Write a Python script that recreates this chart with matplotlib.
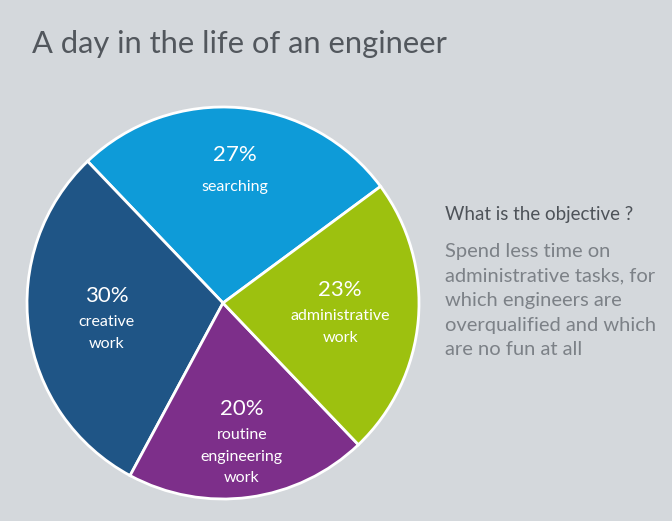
import numpy as np
import matplotlib
matplotlib.use("Agg")
import matplotlib.pyplot as plt
from matplotlib.transforms import offset_copy

plt.rcParams['font.family'] = ['Lato', 'DejaVu Sans']

# Shares of an engineer's working day
categories = ["searching", "creative\nwork", "routine\nengineering\nwork", "administrative\nwork"]
shares = [27, 30, 20, 23]
colors = ["#0E9BD8", "#1F5586", "#7D2F8A", "#9DC10F"]
label_radius = [0.68, 0.60, 0.72, 0.60]

W, H = 672, 521
BG = "#D4D8DC"
fig = plt.figure(figsize=(W / 100, H / 100), dpi=100, facecolor=BG)

cx, cy, r = 223, 303, 196
ax = fig.add_axes([(cx - r) / W, (H - cy - r) / H, 2 * r / W, 2 * r / H])
ax.set_facecolor(BG)
wedges, _ = ax.pie(shares, colors=colors, startangle=36.5, counterclock=True,
                   radius=1.0, wedgeprops=dict(edgecolor="white", linewidth=2))
ax.set_xlim(-1, 1)
ax.set_ylim(-1, 1)
ax.set_aspect("equal")
ax.axis("off")

PX = 0.72  # points per pixel at 100 dpi
for i, (w, share, cat, rd) in enumerate(zip(wedges, shares, categories, label_radius)):
    mid = np.deg2rad((w.theta1 + w.theta2) / 2)
    x, y = rd * np.cos(mid), rd * np.sin(mid)
    lines = cat.split("\n")
    gap = 30 if len(lines) == 1 else 25
    offsets = [0] + [gap + 21.5 * k for k in range(len(lines))]
    centre = offsets[-1] / 2
    texts = [f"{share}%"] + lines
    for j, (t, off) in enumerate(zip(texts, offsets)):
        tr = offset_copy(ax.transData, fig=fig, x=0, y=(centre - off) * PX, units="points")
        if j == 0:
            ax.text(x, y, t, transform=tr, ha="center", va="center",
                    fontsize=16, color="white")
        else:
            ax.text(x, y, t, transform=tr, ha="center", va="center_baseline",
                    fontsize=11.5, color="white")

fig.text(32 / W, 1 - 53 / H, "A day in the life of an engineer", fontsize=22.2,
         color="#52575D", va="baseline", ha="left")

fig.text(445 / W, 1 - 220 / H, "What is the objective ?", fontsize=13.5,
         color="#4E5359", va="baseline", ha="left")
body = ["Spend less time on", "administrative tasks, for", "which engineers are",
        "overqualified and which", "are no fun at all"]
for i, line in enumerate(body):
    fig.text(445 / W, 1 - (257 + 24.5 * i) / H, line, fontsize=14.5,
             color="#7C8187", va="baseline", ha="left")

fig.savefig("out.png", dpi=100, facecolor=BG)
